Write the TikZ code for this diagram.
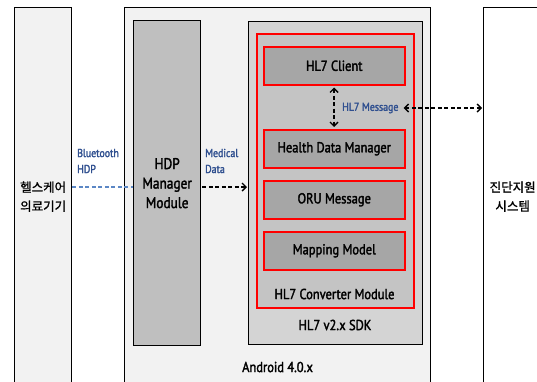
\documentclass[tikz,border=0pt]{standalone}
\usepackage{fontspec}
\setmainfont{PT Sans}[FakeStretch=0.86, FakeBold=2]
\newfontfamily\kofont{Noto Sans CJK KR}[FakeBold=1]
\usetikzlibrary{arrows.meta}
\definecolor{lightbg}{HTML}{F2F2F2}
\definecolor{hdpgray}{HTML}{BFBFBF}
\definecolor{sdkgray}{HTML}{D4D4D4}
\definecolor{convgray}{HTML}{C4C4C4}
\definecolor{innergray}{HTML}{A6A6A6}
\definecolor{lblblue}{HTML}{2F4F8F}
\definecolor{lineblue}{HTML}{5B87C5}
\definecolor{redline}{HTML}{FF0000}
\tikzset{
  frame/.style={draw=black, line width=1.3pt, anchor=north west, inner sep=0pt, align=center},
  redbox/.style={draw=redline, line width=1.5pt, fill=innergray, anchor=north west, inner sep=0pt,
    minimum width=141pt, minimum height=38pt, font=\fontsize{14.5}{15}\selectfont},
  smalllbl/.style={text=lblblue, font=\fontsize{11.5}{16}\selectfont, align=left, inner sep=0pt},
  biglbl/.style={font=\fontsize{14.5}{15}\selectfont, inner sep=0pt},
  darrow/.style={dashed, dash pattern=on 4pt off 2.5pt, line width=1.4pt, -{Straight Barb[length=4pt,width=8pt]}},
}
\begin{document}
\begin{tikzpicture}[x=1pt,y=-1pt]
\useasboundingbox (0,0) rectangle (537,381);
\fill[white] (0,0) rectangle (537,381);
\clip (0,0) rectangle (537,381);
% outer columns
\node[frame, fill=lightbg, minimum width=57pt, minimum height=378pt, font=\kofont\fontsize{12.5}{19}\selectfont] (dev) at (14,7) {헬스케어\\의료기기};
\node[frame, fill=lightbg, minimum width=306pt, minimum height=378pt] (android) at (124,7) {};
\node[frame, fill=white, minimum width=58pt, minimum height=378pt, font=\kofont\fontsize{12.5}{19}\selectfont] (cds) at (483,7) {진단지원\\시스템};
% HDP manager
\node[frame, fill=hdpgray, minimum width=67pt, minimum height=325pt, font=\fontsize{15.5}{19.5}\selectfont] (hdp) at (133,20) {HDP\\Manager\\Module};
% SDK
\node[frame, fill=sdkgray, minimum width=174pt, minimum height=323pt] (sdk) at (248,21) {};
\node[draw=redline, line width=1.5pt, fill=convgray, anchor=north west, inner sep=0pt, minimum width=157pt, minimum height=274pt] (conv) at (256,33) {};
\node[redbox] (client) at (263,46) {HL7 Client};
\node[redbox] (hdm) at (263,129) {Health Data Manager};
\node[redbox] (oru) at (263,180) {ORU Message};
\node[redbox] (map) at (263,231) {Mapping Model};
\node[biglbl] (convlbl) at (334.5,294) {HL7 Converter Module};
\node[biglbl] (sdklbl) at (335,325) {HL7 v2.x SDK};
\node[biglbl, anchor=west] (andlbl) at (242,367) {Android 4.0.x};
% labels
\node[smalllbl, anchor=west] (bt) at (77,161) {Bluetooth\\HDP};
\node[smalllbl, anchor=west] (md) at (205,161) {Medical\\Data};
\node[smalllbl, anchor=west] (msg) at (342,108) {HL7 Message};
\coordinate (ly) at (0,187);
% connectors
\draw[lineblue, line width=1.4pt, dash pattern=on 4pt off 2.5pt] (dev.east |- ly) -- (hdp.west |- ly);
\draw[darrow] ([xshift=1pt]hdp.east |- ly) -- ([xshift=-1pt]sdk.west |- ly);
\draw[darrow, {Straight Barb[length=4pt,width=8pt]}-{Straight Barb[length=4pt,width=8pt]}] ([yshift=-2pt]client.south -| 334,0) -- ([yshift=2pt]hdm.north -| 334,0);
\draw[darrow, {Straight Barb[length=4pt,width=8pt]}-{Straight Barb[length=4pt,width=8pt]}] ([xshift=5pt]msg.east) -- ([xshift=-1pt]cds.west |- msg.east);
\end{tikzpicture}
\end{document}
